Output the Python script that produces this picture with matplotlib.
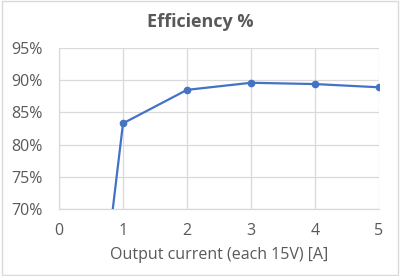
import matplotlib
matplotlib.use("Agg")
import matplotlib.pyplot as plt
from matplotlib.ticker import FuncFormatter

# --- data ---
current = [0, 1, 2, 3, 4, 5]
efficiency = [0.0, 0.833, 0.885, 0.896, 0.894, 0.889]

x_ticks = [0, 1, 2, 3, 4, 5]
y_ticks = [0.70, 0.75, 0.80, 0.85, 0.90, 0.95]

TEXT = "#595959"
GRID = "#d9d9d9"
BLUE = "#4472C4"

plt.rcParams["font.family"] = ["Open Sans", "DejaVu Sans"]

fig = plt.figure(figsize=(4.0, 2.76), dpi=100)
ax = fig.add_axes([59 / 400, 1 - 209 / 276, 320 / 400, 161 / 276])

ax.plot(current, efficiency, color=BLUE, lw=1.6, marker="o", ms=4.5,
        zorder=3)

ax.set_xlim(0, 5)
ax.set_ylim(0.70, 0.95)
ax.set_xticks(x_ticks)
ax.set_yticks(y_ticks)
ax.yaxis.set_major_formatter(FuncFormatter(lambda v, _: f"{v * 100:.0f}%"))

ax.grid(True, color=GRID, lw=0.9)
ax.set_axisbelow(True)
for side in ("top", "right"):
    ax.spines[side].set_visible(False)
for side in ("left", "bottom"):
    ax.spines[side].set_color(GRID)
    ax.spines[side].set_linewidth(0.9)

ax.tick_params(length=0, colors=TEXT, labelsize=11.5)
ax.tick_params(axis="y", pad=12)
ax.tick_params(axis="x", pad=10)
ax.set_xlabel("Output current (each 15V) [A]", color=TEXT, fontsize=11.5,
              labelpad=6)
fig.text(0.5, 1 - 22 / 276, "Efficiency %", ha="center", va="center",
         color=TEXT, fontsize=13, fontweight="bold")

# light frame around the chart area
fig.patches.append(plt.Rectangle((0.004, 0.005), 0.99, 0.99,
                                 transform=fig.transFigure, fill=False,
                                 edgecolor=GRID, lw=1))

fig.savefig("out.png", dpi=100)
